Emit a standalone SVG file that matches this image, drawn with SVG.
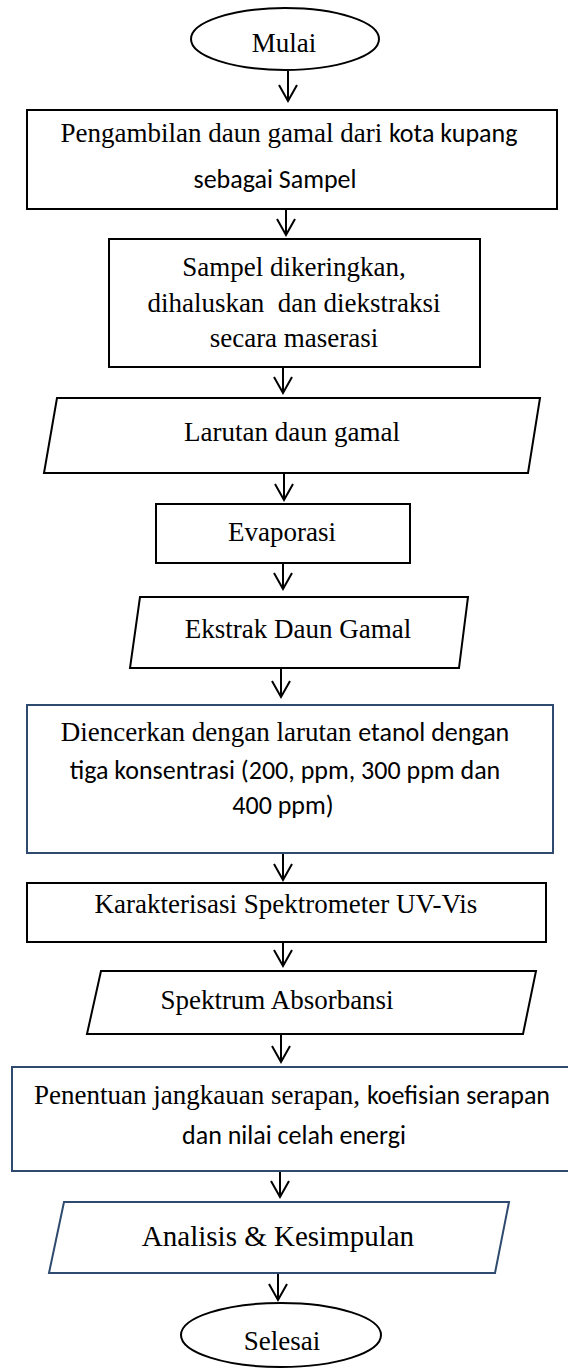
<svg xmlns="http://www.w3.org/2000/svg" width="568" height="1370" viewBox="0 0 568 1370">
<style>
.bk{fill:#fff;stroke:#000;stroke-width:2}
.nv{fill:#fff;stroke:#2E4A6E;stroke-width:2}
.t{font-family:"Liberation Serif","Times New Roman",serif;font-size:27px;fill:#000;text-anchor:middle}
.c{font-family:Carlito,Lato,"Noto Sans",sans-serif;font-size:26px}
.cl{font-family:Carlito,Lato,"Noto Sans",sans-serif;font-size:26px;fill:#000;text-anchor:middle}
.ar{fill:none;stroke:#000;stroke-width:2}
</style>
<g id="connectors">
<path class="ar" d="M288,71 V101 M279,85 L288,101 L297,85"/>
<path class="ar" d="M286,209 V235 M277,219 L286,235 L295,219"/>
<path class="ar" d="M283,367 V393 M274,377 L283,393 L292,377"/>
<path class="ar" d="M284,473 V500 M275,484 L284,500 L293,484"/>
<path class="ar" d="M283,563 V589 M274,573 L283,589 L292,573"/>
<path class="ar" d="M281,669 V697 M272,681 L281,697 L290,681"/>
<path class="ar" d="M283,853 V880 M274,864 L283,880 L292,864"/>
<path class="ar" d="M283,942 V966 M274,950 L283,966 L292,950"/>
<path class="ar" d="M281,1034 V1062 M272,1046 L281,1062 L290,1046"/>
<path class="ar" d="M280,1171 V1197 M271,1181 L280,1197 L289,1181"/>
<path class="ar" d="M278,1273 V1300 M269,1284 L278,1300 L287,1284"/>
</g>
<g id="mulai">
<ellipse class="bk" cx="285" cy="39" rx="94" ry="31"/>
<text class="t" x="284" y="52">Mulai</text>
</g>
<g id="pengambilan">
<rect class="bk" x="27" y="110" width="530" height="99"/>
<text class="t" x="289" y="142">Pengambilan daun gamal dari <tspan class="c">kota kupang</tspan></text>
<text class="cl" x="275" y="188">sebagai Sampel</text>
</g>
<g id="pengeringan">
<rect class="bk" x="109" y="239" width="371" height="128"/>
<text class="t" x="294" y="276">Sampel dikeringkan,</text>
<text class="t" x="294" y="312" xml:space="preserve">dihaluskan  dan diekstraksi</text>
<text class="t" x="294" y="347">secara maserasi</text>
</g>
<g id="larutan">
<polygon class="bk" points="57,398 540,398 528,473 44,473"/>
<text class="t" x="292" y="441">Larutan daun gamal</text>
</g>
<g id="evaporasi">
<rect class="bk" x="156" y="504" width="254" height="59"/>
<text class="t" x="282" y="541">Evaporasi</text>
</g>
<g id="ekstrak">
<polygon class="bk" points="140,597 468,597 459,668 130,668"/>
<text class="t" x="298" y="638">Ekstrak Daun Gamal</text>
</g>
<g id="pengenceran">
<rect class="nv" x="27" y="705" width="526" height="148"/>
<text class="t" x="285" y="741">Diencerkan dengan larutan <tspan class="c">etanol dengan</tspan></text>
<text class="cl" x="285" y="779">tiga konsentrasi (200, ppm, 300 ppm dan</text>
<text class="cl" x="283" y="814">400 ppm)</text>
</g>
<g id="karakterisasi">
<rect class="bk" x="27" y="883" width="519" height="59"/>
<text class="t" x="286" y="913">Karakterisasi Spektrometer UV-Vis</text>
</g>
<g id="spektrum">
<polygon class="bk" points="101,971 536,971 523,1034 87,1034"/>
<text class="t" x="277" y="1009">Spektrum Absorbansi</text>
</g>
<g id="penentuan">
<rect class="nv" x="12" y="1067" width="570" height="104"/>
<text class="t" x="292" y="1104">Penentuan jangkauan serapan, <tspan class="c">koefisian serapan</tspan></text>
<text class="cl" x="294" y="1144">dan nilai celah energi</text>
</g>
<g id="analisis">
<polygon class="nv" points="64,1202 509,1202 495,1273 49,1273"/>
<text class="t" x="278" y="1246" style="font-size:29px">Analisis &amp; Kesimpulan</text>
</g>
<g id="selesai">
<ellipse class="bk" cx="281" cy="1335" rx="100" ry="32"/>
<text class="t" x="282" y="1350">Selesai</text>
</g>
</svg>
